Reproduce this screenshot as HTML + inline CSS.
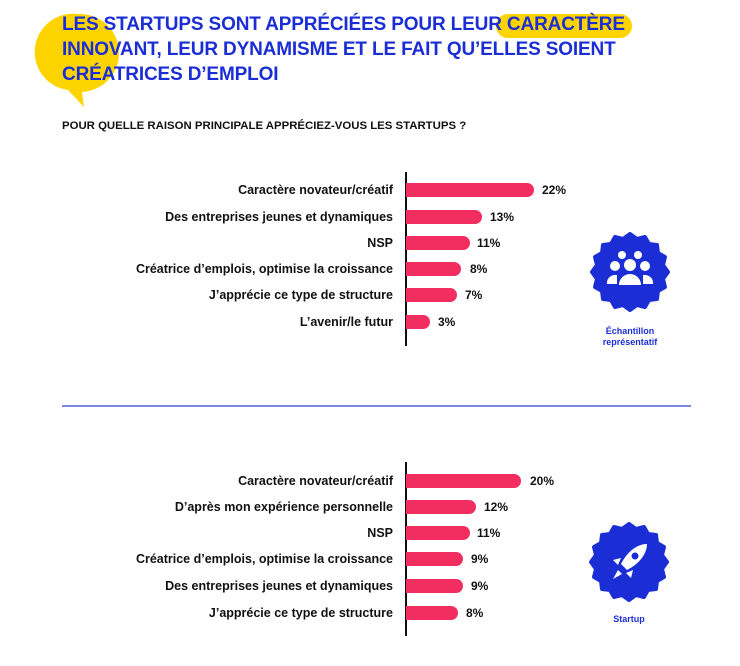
<!DOCTYPE html>
<html><head><meta charset="utf-8"><style>
body{margin:0;width:740px;height:666px;background:#fff;position:relative;overflow:hidden;font-family:"Liberation Sans",sans-serif}
.t{position:absolute;left:62px;color:#1b2ed6;font-weight:bold;font-size:19px;white-space:nowrap;letter-spacing:-0.15px}
.q{position:absolute;left:62px;top:120px;font-size:11.4px;font-weight:bold;color:#111}
.l{position:absolute;right:347px;font-size:12.5px;font-weight:bold;color:#111;white-space:nowrap;transform:translateY(-50%)}
.b{position:absolute;left:406px;height:14px;background:#f22d5f;border-radius:0 7px 7px 0;transform:translateY(-50%)}
.v{position:absolute;font-size:12px;font-weight:bold;color:#111;transform:translateY(-50%)}
.ax{position:absolute;left:405px;width:1.5px;background:#111}
.cap{position:absolute;font-size:9px;font-weight:bold;color:#1b2ed6;text-align:center;width:120px}
</style></head><body>
<svg style="position:absolute;left:0;top:0" width="740" height="120">
<path d="M78 14 A37 37 0 1 1 82 92 L84 107 L68 90 A37 37 0 0 1 78 14Z" fill="#fdd400"/>
<rect x="496" y="14" width="136" height="24" rx="12" fill="#fdd400"/>
</svg>
<div class="t" style="top:14px">LES STARTUPS SONT APPRÉCIÉES POUR LEUR CARACTÈRE</div>
<div class="t" style="top:39px">INNOVANT, LEUR DYNAMISME ET LE FAIT QU’ELLES SOIENT</div>
<div class="t" style="top:64px">CRÉATRICES D’EMPLOI</div>
<div class="q">POUR QUELLE RAISON PRINCIPALE APPRÉCIEZ-VOUS LES STARTUPS ?</div>

<div class="ax" style="top:172px;height:174px"></div>
<div class="l" style="top:190px">Caractère novateur/créatif</div><div class="b" style="top:190px;width:128px"></div><div class="v" style="top:190px;left:542px">22%</div>
<div class="l" style="top:217px">Des entreprises jeunes et dynamiques</div><div class="b" style="top:217px;width:76px"></div><div class="v" style="top:217px;left:490px">13%</div>
<div class="l" style="top:243px">NSP</div><div class="b" style="top:243px;width:64px"></div><div class="v" style="top:243px;left:477px">11%</div>
<div class="l" style="top:269px">Créatrice d’emplois, optimise la croissance</div><div class="b" style="top:269px;width:55px"></div><div class="v" style="top:269px;left:470px">8%</div>
<div class="l" style="top:295px">J’apprécie ce type de structure</div><div class="b" style="top:295px;width:51px"></div><div class="v" style="top:295px;left:465px">7%</div>
<div class="l" style="top:322px">L’avenir/le futur</div><div class="b" style="top:322px;width:24px"></div><div class="v" style="top:322px;left:438px">3%</div>

<div style="position:absolute;left:62px;top:405px;width:629px;height:1.5px;background:#7b86e0"></div>

<div class="ax" style="top:462px;height:174px"></div>
<div class="l" style="top:481px">Caractère novateur/créatif</div><div class="b" style="top:481px;width:115px"></div><div class="v" style="top:481px;left:530px">20%</div>
<div class="l" style="top:507px">D’après mon expérience personnelle</div><div class="b" style="top:507px;width:70px"></div><div class="v" style="top:507px;left:484px">12%</div>
<div class="l" style="top:533px">NSP</div><div class="b" style="top:533px;width:64px"></div><div class="v" style="top:533px;left:477px">11%</div>
<div class="l" style="top:559px">Créatrice d’emplois, optimise la croissance</div><div class="b" style="top:559px;width:57px"></div><div class="v" style="top:559px;left:471px">9%</div>
<div class="l" style="top:586px">Des entreprises jeunes et dynamiques</div><div class="b" style="top:586px;width:57px"></div><div class="v" style="top:586px;left:471px">9%</div>
<div class="l" style="top:613px">J’apprécie ce type de structure</div><div class="b" style="top:613px;width:52px"></div><div class="v" style="top:613px;left:466px">8%</div>

<svg style="position:absolute;left:590px;top:232px" width="80" height="80" viewBox="-40 -40 80 80">
<path d="M0-38 L7-33 15-35 19-28 27-27 28-19 35-15 33-7 38 0 33 7 35 15 28 19 27 27 19 28 15 35 7 33 0 38 -7 33 -15 35 -19 28 -27 27 -28 19 -35 15 -33 7 -38 0 -33-7 -35-15 -28-19 -27-27 -19-28 -15-35 -7-33Z" fill="#1b2ed6" stroke="#1b2ed6" stroke-width="4" stroke-linejoin="round"/>
<g fill="#fff"><circle cx="-8" cy="-17" r="4"/><circle cx="8" cy="-17" r="4"/><circle cx="-15" cy="-6" r="5"/><circle cx="15" cy="-6" r="5"/><circle cx="0" cy="-7" r="6"/>
<path d="M-23 12 a8 8 0 0 1 8-9 h2 v9Z M23 12 a8 8 0 0 0-8-9 h-2 v9Z M-11 13 a11 11 0 0 1 22 0Z"/></g>
</svg>
<div class="cap" style="left:570px;top:326px;line-height:11px">Échantillon<br>représentatif</div>

<svg style="position:absolute;left:589px;top:522px" width="80" height="80" viewBox="-40 -40 80 80">
<path d="M0-38 L7-33 15-35 19-28 27-27 28-19 35-15 33-7 38 0 33 7 35 15 28 19 27 27 19 28 15 35 7 33 0 38 -7 33 -15 35 -19 28 -27 27 -28 19 -35 15 -33 7 -38 0 -33-7 -35-15 -28-19 -27-27 -19-28 -15-35 -7-33Z" fill="#1b2ed6" stroke="#1b2ed6" stroke-width="4" stroke-linejoin="round"/>
<g fill="#fff"><path d="M18-18 C8-18 -2-10 -8 2 L-2 8 C10 2 18-8 18-18Z"/><path d="M-8 -4 L-16 -2 L-11 3Z M4 8 L2 16 L-3 11Z"/><path d="M-11 8 L-7 12 L-16 17Z"/></g>
<circle cx="6" cy="-6" r="3.5" fill="#1b2ed6"/>
</svg>
<div class="cap" style="left:569px;top:614px">Startup</div>
</body></html>
